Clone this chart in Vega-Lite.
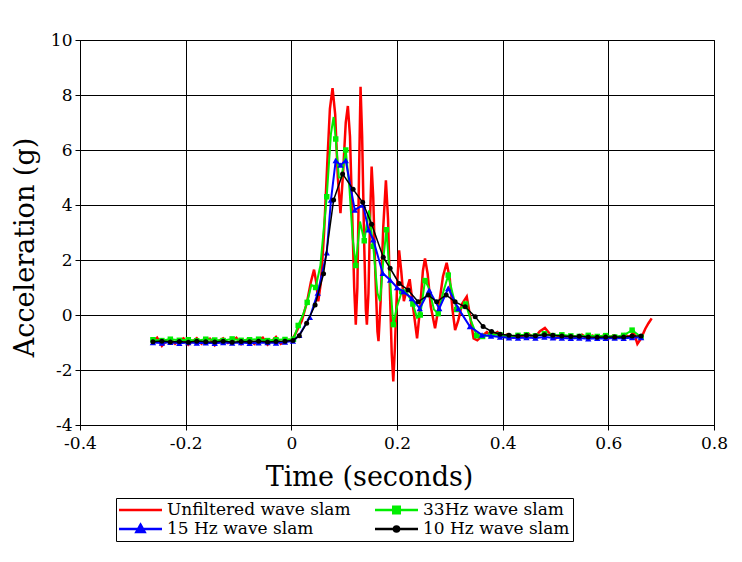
{
"$schema": "https://vega.github.io/schema/vega-lite/v6.json",
"width": 634, "height": 385,
"autosize": "none",
"padding": {"left": 80, "top": 40, "right": 28, "bottom": 137},
"background": "white",
"config": {"font": "DejaVu Serif", "view": {"stroke": "black", "strokeWidth": 1}},
"datasets": {
"red": [
{"t":-0.262,"v":-0.95},{"t":-0.254,"v":-0.82},{"t":-0.245,"v":-1.12},{"t":-0.237,"v":-0.95},{"t":-0.229,"v":-0.86},{"t":-0.22,"v":-1.05},{"t":-0.212,"v":-0.92},{"t":-0.204,"v":-0.85},{"t":-0.195,"v":-1.08},{"t":-0.187,"v":-0.95},{"t":-0.179,"v":-0.84},{"t":-0.17,"v":-1.04},{"t":-0.162,"v":-0.9},{"t":-0.154,"v":-0.86},{"t":-0.145,"v":-1.1},{"t":-0.137,"v":-0.94},{"t":-0.129,"v":-0.85},{"t":-0.12,"v":-1.02},{"t":-0.112,"v":-0.95},{"t":-0.104,"v":-0.83},{"t":-0.095,"v":-1.06},{"t":-0.087,"v":-0.92},{"t":-0.079,"v":-0.86},{"t":-0.07,"v":-1.05},{"t":-0.062,"v":-0.9},{"t":-0.054,"v":-0.82},{"t":-0.045,"v":-1.08},{"t":-0.037,"v":-0.95},{"t":-0.029,"v":-0.8},{"t":-0.02,"v":-1.05},{"t":-0.012,"v":-0.95},{"t":-0.004,"v":-0.9},
{"t":0.0,"v":-0.95},{"t":0.01,"v":-0.6},{"t":0.02,"v":-0.2},{"t":0.03,"v":0.5},{"t":0.037,"v":1.2},{"t":0.043,"v":1.65},{"t":0.047,"v":1.2},{"t":0.051,"v":0.5},{"t":0.056,"v":1.2},{"t":0.062,"v":3.0},{"t":0.068,"v":5.5},{"t":0.073,"v":7.5},{"t":0.078,"v":8.25},{"t":0.083,"v":7.3},{"t":0.088,"v":5.0},{"t":0.093,"v":3.7},{"t":0.098,"v":5.2},{"t":0.103,"v":7.0},{"t":0.107,"v":7.6},{"t":0.111,"v":6.5},{"t":0.115,"v":3.8},{"t":0.119,"v":1.0},{"t":0.122,"v":-0.35},{"t":0.125,"v":1.0},{"t":0.128,"v":5.0},{"t":0.131,"v":8.3},{"t":0.134,"v":6.5},{"t":0.138,"v":2.5},{"t":0.141,"v":0.2},{"t":0.143,"v":-0.35},{"t":0.146,"v":0.8},{"t":0.149,"v":3.5},{"t":0.152,"v":5.4},{"t":0.155,"v":4.3},{"t":0.159,"v":1.5},{"t":0.163,"v":-0.6},{"t":0.165,"v":-0.95},{"t":0.169,"v":0.5},{"t":0.174,"v":3.2},{"t":0.179,"v":4.9},{"t":0.183,"v":3.5},{"t":0.187,"v":0.6},{"t":0.19,"v":-1.4},{"t":0.193,"v":-2.42},{"t":0.196,"v":-1.2},{"t":0.2,"v":1.0},{"t":0.204,"v":2.35},{"t":0.208,"v":1.6},{"t":0.213,"v":0.5},{"t":0.218,"v":0.9},{"t":0.224,"v":1.3},{"t":0.231,"v":0.2},{"t":0.238,"v":-0.85},{"t":0.244,"v":0.3},{"t":0.249,"v":1.6},{"t":0.253,"v":2.06},{"t":0.258,"v":1.5},{"t":0.264,"v":0.3},{"t":0.272,"v":-0.48},{"t":0.279,"v":0.3},{"t":0.287,"v":1.4},{"t":0.294,"v":1.9},{"t":0.3,"v":1.3},{"t":0.305,"v":0.2},{"t":0.31,"v":-0.55},{"t":0.316,"v":-0.2},{"t":0.323,"v":0.4},{"t":0.332,"v":0.67},{"t":0.338,"v":0.0},{"t":0.345,"v":-0.85},{"t":0.352,"v":-0.92},{"t":0.36,"v":-0.78},{"t":0.37,"v":-0.62},{"t":0.38,"v":-0.75},
{"t":0.39,"v":-0.62},{"t":0.4,"v":-0.78},{"t":0.41,"v":-0.7},{"t":0.42,"v":-0.82},{"t":0.43,"v":-0.72},{"t":0.44,"v":-0.8},{"t":0.45,"v":-0.7},{"t":0.46,"v":-0.85},{"t":0.47,"v":-0.6},{"t":0.48,"v":-0.47},{"t":0.49,"v":-0.7},{"t":0.5,"v":-0.85},{"t":0.51,"v":-0.72},{"t":0.52,"v":-0.8},{"t":0.53,"v":-0.75},{"t":0.54,"v":-0.82},{"t":0.55,"v":-0.72},{"t":0.56,"v":-0.85},{"t":0.57,"v":-0.75},{"t":0.58,"v":-0.82},{"t":0.59,"v":-0.76},{"t":0.6,"v":-0.85},{"t":0.61,"v":-0.74},{"t":0.62,"v":-0.82},{"t":0.63,"v":-0.7},{"t":0.64,"v":-0.8},{"t":0.648,"v":-0.62},{"t":0.655,"v":-1.05},{"t":0.662,"v":-0.85},{"t":0.67,"v":-0.5},{"t":0.676,"v":-0.3},{"t":0.682,"v":-0.12}
],
"green": [
{"t":-0.262,"v":-0.9,"m":1},{"t":-0.245,"v":-0.93,"m":1},{"t":-0.229,"v":-0.88,"m":1},{"t":-0.212,"v":-0.92,"m":1},{"t":-0.195,"v":-0.9,"m":1},{"t":-0.179,"v":-0.94,"m":1},{"t":-0.162,"v":-0.88,"m":1},{"t":-0.145,"v":-0.91,"m":1},{"t":-0.129,"v":-0.93,"m":1},{"t":-0.112,"v":-0.87,"m":1},{"t":-0.095,"v":-0.92,"m":1},{"t":-0.079,"v":-0.9,"m":1},{"t":-0.062,"v":-0.88,"m":1},{"t":-0.045,"v":-0.93,"m":1},{"t":-0.029,"v":-0.9,"m":1},{"t":-0.012,"v":-0.89,"m":1},
{"t":0.004,"v":-0.88,"m":1},{"t":0.013,"v":-0.38,"m":1},{"t":0.022,"v":0.0,"m":0},{"t":0.03,"v":0.46,"m":1},{"t":0.038,"v":1.1,"m":0},{"t":0.046,"v":1.0,"m":1},{"t":0.055,"v":1.8,"m":0},{"t":0.067,"v":4.3,"m":1},{"t":0.075,"v":6.6,"m":0},{"t":0.08,"v":7.2,"m":0},{"t":0.084,"v":6.4,"m":1},{"t":0.09,"v":5.0,"m":0},{"t":0.095,"v":5.0,"m":0},{"t":0.103,"v":6.0,"m":1},{"t":0.11,"v":4.6,"m":0},{"t":0.116,"v":2.8,"m":0},{"t":0.122,"v":1.8,"m":1},{"t":0.13,"v":3.4,"m":0},{"t":0.138,"v":2.7,"m":1},{"t":0.147,"v":3.8,"m":0},{"t":0.155,"v":2.5,"m":1},{"t":0.163,"v":0.8,"m":0},{"t":0.168,"v":0.5,"m":0},{"t":0.175,"v":2.2,"m":0},{"t":0.18,"v":3.1,"m":1},{"t":0.186,"v":1.5,"m":0},{"t":0.193,"v":-0.35,"m":1},{"t":0.2,"v":0.3,"m":0},{"t":0.209,"v":0.85,"m":1},{"t":0.215,"v":0.9,"m":0},{"t":0.222,"v":0.7,"m":0},{"t":0.23,"v":0.4,"m":1},{"t":0.238,"v":-0.1,"m":0},{"t":0.244,"v":0.0,"m":1},{"t":0.253,"v":1.25,"m":1},{"t":0.26,"v":1.0,"m":0},{"t":0.27,"v":0.2,"m":0},{"t":0.278,"v":0.05,"m":1},{"t":0.287,"v":0.8,"m":0},{"t":0.297,"v":1.45,"m":1},{"t":0.305,"v":0.8,"m":0},{"t":0.313,"v":0.2,"m":1},{"t":0.322,"v":0.25,"m":0},{"t":0.33,"v":0.4,"m":1},{"t":0.34,"v":-0.2,"m":0},{"t":0.351,"v":-0.75,"m":1},{"t":0.362,"v":-0.78,"m":1},{"t":0.378,"v":-0.72,"m":1},
{"t":0.395,"v":-0.72,"m":1},{"t":0.412,"v":-0.78,"m":1},{"t":0.429,"v":-0.74,"m":1},{"t":0.445,"v":-0.72,"m":1},{"t":0.462,"v":-0.76,"m":1},{"t":0.479,"v":-0.68,"m":1},{"t":0.495,"v":-0.75,"m":1},{"t":0.512,"v":-0.72,"m":1},{"t":0.529,"v":-0.76,"m":1},{"t":0.545,"v":-0.78,"m":1},{"t":0.562,"v":-0.74,"m":1},{"t":0.579,"v":-0.78,"m":1},{"t":0.595,"v":-0.75,"m":1},{"t":0.612,"v":-0.8,"m":1},{"t":0.629,"v":-0.74,"m":1},{"t":0.645,"v":-0.55,"m":1},{"t":0.662,"v":-0.8,"m":1}
],
"blue": [
{"t":-0.262,"v":-1.0},{"t":-0.245,"v":-1.02},{"t":-0.229,"v":-0.99},{"t":-0.212,"v":-1.03},{"t":-0.195,"v":-1.0},{"t":-0.179,"v":-1.02},{"t":-0.162,"v":-1.01},{"t":-0.145,"v":-1.03},{"t":-0.129,"v":-1.0},{"t":-0.112,"v":-1.02},{"t":-0.095,"v":-1.0},{"t":-0.079,"v":-1.03},{"t":-0.062,"v":-1.01},{"t":-0.045,"v":-1.0},{"t":-0.029,"v":-1.02},{"t":-0.012,"v":-0.98},
{"t":0.003,"v":-0.95},{"t":0.015,"v":-0.74},{"t":0.035,"v":-0.08},{"t":0.05,"v":0.8},{"t":0.067,"v":2.26},{"t":0.075,"v":4.18},{"t":0.084,"v":5.62},{"t":0.093,"v":5.45},{"t":0.103,"v":5.62},{"t":0.12,"v":3.82},{"t":0.136,"v":4.0},{"t":0.146,"v":3.1},{"t":0.155,"v":2.74},{"t":0.173,"v":1.52},{"t":0.187,"v":1.27},{"t":0.2,"v":1.0},{"t":0.212,"v":0.85},{"t":0.228,"v":0.6},{"t":0.243,"v":0.24},{"t":0.261,"v":0.9},{"t":0.28,"v":0.24},{"t":0.297,"v":0.97},{"t":0.316,"v":0.24},{"t":0.338,"v":-0.42},{"t":0.361,"v":-0.73},{"t":0.378,"v":-0.76},
{"t":0.395,"v":-0.8},{"t":0.412,"v":-0.83},{"t":0.429,"v":-0.84},{"t":0.445,"v":-0.82},{"t":0.462,"v":-0.84},{"t":0.479,"v":-0.8},{"t":0.495,"v":-0.83},{"t":0.512,"v":-0.84},{"t":0.529,"v":-0.85},{"t":0.545,"v":-0.84},{"t":0.562,"v":-0.86},{"t":0.579,"v":-0.85},{"t":0.595,"v":-0.85},{"t":0.612,"v":-0.84},{"t":0.629,"v":-0.85},{"t":0.645,"v":-0.82},{"t":0.662,"v":-0.82}
],
"black": [
{"t":-0.262,"v":-0.97},{"t":-0.245,"v":-0.95},{"t":-0.229,"v":-0.98},{"t":-0.212,"v":-0.96},{"t":-0.195,"v":-0.99},{"t":-0.179,"v":-0.95},{"t":-0.162,"v":-0.97},{"t":-0.145,"v":-0.98},{"t":-0.129,"v":-0.95},{"t":-0.112,"v":-0.99},{"t":-0.095,"v":-0.96},{"t":-0.079,"v":-0.97},{"t":-0.062,"v":-0.95},{"t":-0.045,"v":-0.98},{"t":-0.029,"v":-0.96},{"t":-0.012,"v":-0.95},
{"t":0.003,"v":-0.93},{"t":0.015,"v":-0.75},{"t":0.029,"v":-0.3},{"t":0.045,"v":0.36},{"t":0.061,"v":1.5},{"t":0.08,"v":4.18},{"t":0.097,"v":5.13},{"t":0.117,"v":4.57},{"t":0.135,"v":4.1},{"t":0.152,"v":3.3},{"t":0.174,"v":2.1},{"t":0.187,"v":1.7},{"t":0.204,"v":1.15},{"t":0.221,"v":0.91},{"t":0.24,"v":0.48},{"t":0.259,"v":0.73},{"t":0.275,"v":0.48},{"t":0.293,"v":0.73},{"t":0.31,"v":0.48},{"t":0.329,"v":0.3},{"t":0.348,"v":-0.06},{"t":0.363,"v":-0.42},{"t":0.379,"v":-0.6},
{"t":0.395,"v":-0.7},{"t":0.412,"v":-0.74},{"t":0.429,"v":-0.76},{"t":0.445,"v":-0.74},{"t":0.462,"v":-0.75},{"t":0.479,"v":-0.72},{"t":0.495,"v":-0.74},{"t":0.512,"v":-0.76},{"t":0.529,"v":-0.78},{"t":0.545,"v":-0.77},{"t":0.562,"v":-0.8},{"t":0.579,"v":-0.81},{"t":0.595,"v":-0.8},{"t":0.612,"v":-0.8},{"t":0.629,"v":-0.8},{"t":0.645,"v":-0.76},{"t":0.662,"v":-0.76}
]
},
"encoding": {
"x": {"field": "t", "type": "quantitative", "scale": {"domain": [-0.4, 0.8], "nice": false, "zero": false},
 "axis": {"title": "Time (seconds)", "values": [-0.4, -0.2, 0, 0.2, 0.4, 0.6, 0.8], "labelExpr": "replace(format(datum.value, '.1~f'), '−', '-')", "grid": true, "gridColor": "black", "gridOpacity": 1, "gridWidth": 1, "domainColor": "black", "tickColor": "black", "tickSize": 5, "labelFontSize": 17, "labelColor": "black", "labelPadding": 5, "labelFlush": false, "titleFontSize": 27, "titleFontWeight": "normal", "titleColor": "black", "titleX": 289, "titleY": 52, "titleBaseline": "middle"}},
"y": {"field": "v", "type": "quantitative", "scale": {"domain": [-4, 10], "nice": false, "zero": false},
 "axis": {"title": "Acceleration (g)", "values": [-4, -2, 0, 2, 4, 6, 8, 10], "labelExpr": "replace(format(datum.value, 'd'), '−', '-')", "grid": true, "gridColor": "black", "gridOpacity": 1, "gridWidth": 1, "domainColor": "black", "tickColor": "black", "tickSize": 5, "labelFontSize": 17, "labelColor": "black", "labelPadding": 3, "labelFlush": false, "titleFontSize": 27, "titleFontWeight": "normal", "titleColor": "black", "titleX": -55, "titleY": 207, "titleBaseline": "middle", "titleAngle": -90}}
},
"layer": [
{"data": {"name": "red"}, "mark": {"type": "line", "strokeWidth": 2.5},
 "encoding": {"color": {"datum": "Unfiltered wave slam", "type": "nominal",
  "scale": {"domain": ["Unfiltered wave slam", "15 Hz wave slam", "33Hz wave slam", "10 Hz wave slam"], "range": ["#ff0000", "#0000ff", "#00ee00", "#000000"]},
  "legend": {"orient": "none", "legendX": 36, "legendY": 458, "columns": 2, "title": null, "strokeColor": "black", "fillColor": "white", "padding": 3, "labelFontSize": 17, "labelColor": "black", "labelLimit": 400, "labelOffset": 2, "symbolSize": 100, "symbolStrokeWidth": 2.5, "columnPadding": 24, "rowPadding": 1, "clipHeight": 18, "gridAlign": "each",
   "labelExpr": "(datum.label == '33Hz wave slam' || datum.label == '10 Hz wave slam') ? datum.label + '\u2003\u2003\u2002' : datum.label",
   "encode": {"symbols": {"update": {
    "shape": {"signal": "datum.value == 'Unfiltered wave slam' ? 'M-1,0H1' : datum.value == '33Hz wave slam' ? 'M-1,0H1M-0.15,-0.15H0.15V0.15H-0.15Z' : datum.value == '15 Hz wave slam' ? 'M-1,0H1M0,-0.2L0.19,0.14H-0.19Z' : 'M-1,0H1M0.12,0A0.12,0.12,0,1,1,-0.12,0A0.12,0.12,0,1,1,0.12,0Z'"},
    "size": {"value": 1849},
    "x": {"value": 21.5},
    "fill": {"signal": "scale('color', datum.value)"},
    "fillOpacity": {"value": 1}}}}}}}},
{"data": {"name": "green"}, "mark": {"type": "line", "strokeWidth": 2}, "encoding": {"color": {"datum": "33Hz wave slam", "type": "nominal"}}},
{"data": {"name": "green"}, "transform": [{"filter": "datum.m == 1"}], "mark": {"type": "point", "shape": "square", "filled": true, "size": 30, "opacity": 1}, "encoding": {"color": {"datum": "33Hz wave slam", "type": "nominal"}}},
{"data": {"name": "blue"}, "mark": {"type": "line", "strokeWidth": 2}, "encoding": {"color": {"datum": "15 Hz wave slam", "type": "nominal"}}},
{"data": {"name": "blue"}, "mark": {"type": "point", "shape": "triangle-up", "filled": true, "size": 40, "opacity": 1}, "encoding": {"color": {"datum": "15 Hz wave slam", "type": "nominal"}}},
{"data": {"name": "black"}, "mark": {"type": "line", "strokeWidth": 1.5}, "encoding": {"color": {"datum": "10 Hz wave slam", "type": "nominal"}}},
{"data": {"name": "black"}, "mark": {"type": "point", "shape": "circle", "filled": true, "size": 25, "opacity": 1}, "encoding": {"color": {"datum": "10 Hz wave slam", "type": "nominal"}}}
]
}
